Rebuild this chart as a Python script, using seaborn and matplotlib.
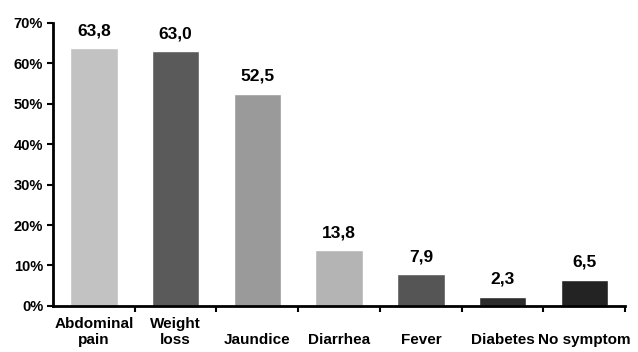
import pandas as pd
import seaborn as sns
import matplotlib.pyplot as plt
from matplotlib.ticker import FuncFormatter, FixedLocator

# Данные
symptoms = ['Abdominal pain', 'Weight loss', 'Jaundice', 'Diarrhea',
            'Fever', 'Diabetes', 'No symptom']
tick_labels = ['Abdominal\npain', 'Weight\nloss', '\nJaundice', '\nDiarrhea',
               '\nFever', '\nDiabetes', '\nNo symptom']
percent = [63.8, 63.0, 52.5, 13.8, 7.9, 2.3, 6.5]
bar_colors = ['#c2c2c2', '#5a5a5a', '#9a9a9a', '#b4b4b4',
              '#555555', '#2c2c2c', '#232323']

df = pd.DataFrame({'symptom': symptoms, 'percent': percent})

sns.set_style('white')
plt.rcParams['font.family'] = ['Liberation Sans', 'DejaVu Sans']
plt.rcParams['font.weight'] = 'bold'
plt.rcParams['text.color'] = 'black'
plt.rcParams['xtick.color'] = 'black'
plt.rcParams['ytick.color'] = 'black'

fig = plt.figure(figsize=(6.38, 3.52), dpi=100)
ax = fig.add_axes([0.083, 0.131, 0.897, 0.804])

sns.barplot(data=df, x='symptom', y='percent', hue='symptom',
            palette=bar_colors, width=0.58, legend=False, ax=ax,
            saturation=1)

# Подписи значений над столбиками
for p, v in zip(ax.patches, percent):
    ax.annotate(f'{v:.1f}'.replace('.', ','),
                (p.get_x() + p.get_width() / 2, p.get_height()),
                xytext=(0, 7), textcoords='offset points',
                ha='center', va='bottom', fontsize=12.5, fontweight='bold',
                color='black')

ax.set_ylim(0, 70)
ax.set_xlim(-0.5, len(symptoms) - 0.5)
ax.yaxis.set_major_locator(FixedLocator(range(0, 71, 10)))
ax.yaxis.set_major_formatter(FuncFormatter(lambda y, _: f'{y:.0f}%'))
ax.set_xticks(range(len(symptoms)))
ax.set_xticklabels(tick_labels, fontsize=11, fontweight='bold', linespacing=1.15)
ax.tick_params(axis='x', length=0, pad=8)
# засечки между категориями
ax.set_xticks([i + 0.5 for i in range(len(symptoms))], minor=True)
ax.tick_params(axis='x', which='minor', length=4, width=1.5, direction='out',
               bottom=True)
ax.tick_params(axis='y', length=4, width=1.5, direction='out', left=True,
               labelsize=10.5, pad=3)
for lbl in ax.get_yticklabels():
    lbl.set_fontweight('bold')

ax.set_xlabel('')
ax.set_ylabel('')
sns.despine(ax=ax)
ax.spines['left'].set_linewidth(2)
ax.spines['bottom'].set_linewidth(2)
ax.spines['left'].set_color('black')
ax.spines['bottom'].set_color('black')

fig.savefig('out.png', dpi=100)
